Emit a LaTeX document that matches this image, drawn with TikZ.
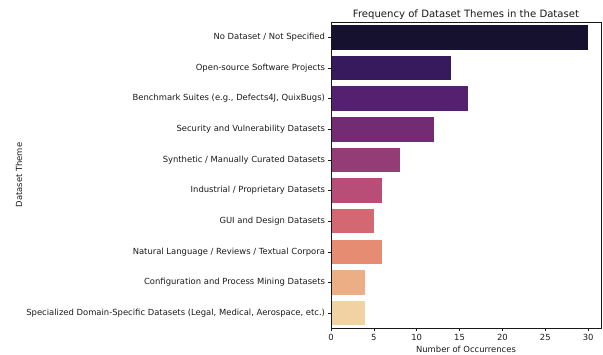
\documentclass[tikz,border=0pt]{standalone}
\usepackage{fontspec}
\setmainfont{DejaVu Sans}
\definecolor{c0}{HTML}{16112F}
\definecolor{c1}{HTML}{371A5E}
\definecolor{c2}{HTML}{55206F}
\definecolor{c3}{HTML}{732B73}
\definecolor{c4}{HTML}{943C75}
\definecolor{c5}{HTML}{B84D78}
\definecolor{c6}{HTML}{D46872}
\definecolor{c7}{HTML}{E68C72}
\definecolor{c8}{HTML}{ECAE84}
\definecolor{c9}{HTML}{F1D2A2}
\definecolor{ink}{HTML}{1A1A1A}
\tikzset{
  ticklab/.style={font=\fontsize{8.42}{10}\selectfont, text=ink, inner sep=0pt},
  axlab/.style={font=\fontsize{8.42}{10}\selectfont, text=ink, inner sep=0pt},
  spine/.style={draw=ink, line width=0.67pt},
  tickmark/.style={draw=ink, line width=0.67pt},
}
\begin{document}
\begin{tikzpicture}[x=1pt,y=-1pt]
\useasboundingbox (0,0) rectangle (603,354);
\def\xl{331}\def\xr{601}\def\yt{22}\def\yb{328.5}
\def\sx{8.5714}\def\rs{30.65}
% bars
\foreach \v [count=\i from 0] in {30,14,16,12,8,6,5,6,4,4}{
  \pgfmathsetmacro{\yc}{\yt+\rs*(\i+0.5)}
  \fill[c\i] (\xl,\yc-12.26) rectangle (\xl+\v*\sx,\yc+12.26);
  \draw[tickmark] (\xl,\yc) -- (\xl-2.9,\yc);
}
% y tick labels
\foreach \t [count=\i from 0] in {
  No Dataset / Not Specified,
  Open-source Software Projects,
  {Benchmark Suites (e.g., Defects4J, QuixBugs)},
  Security and Vulnerability Datasets,
  Synthetic / Manually Curated Datasets,
  Industrial / Proprietary Datasets,
  GUI and Design Datasets,
  Natural Language / Reviews / Textual Corpora,
  Configuration and Process Mining Datasets,
  {Specialized Domain-Specific Datasets (Legal, Medical, Aerospace, etc.)}}{
  \pgfmathsetmacro{\yc}{\yt+\rs*(\i+0.5)}
  \node[ticklab, anchor=east] (yl\i) at (325.2,\yc) {\t};
}
% x ticks
\foreach \v in {0,5,10,15,20,25,30}{
  \draw[tickmark] (\xl+\v*\sx,\yb) -- (\xl+\v*\sx,\yb+2.9);
  \node[ticklab, anchor=north] (xt\v) at (\xl+\v*\sx,334.3) {\v};
}
% spines
\draw[spine] (\xl,\yt) rectangle (\xr,\yb);
% labels
\node[axlab, anchor=center] (xlab) at (466,349) {Number of Occurrences};
\node[axlab, rotate=90, anchor=center] (ylab) at (19,175) {Dataset Theme};
\node[inner sep=0pt, anchor=base, font=\fontsize{10.1}{12}\selectfont, text=ink] (title) at (466,17) {Frequency of Dataset Themes in the Dataset};
\end{tikzpicture}
\end{document}
